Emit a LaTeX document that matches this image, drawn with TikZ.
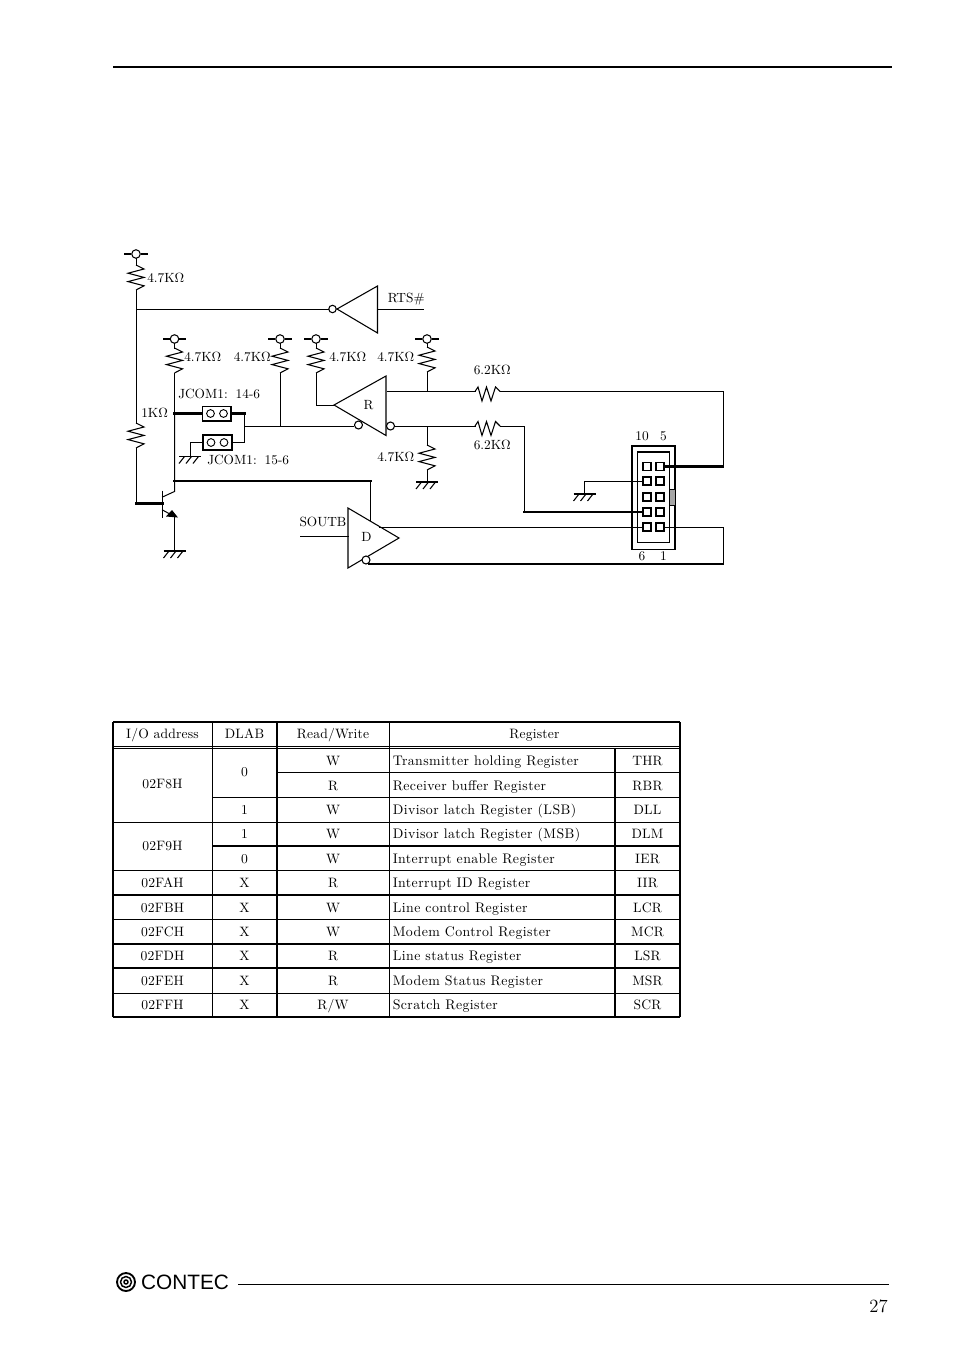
\documentclass[tikz,border=0pt]{standalone}
\usepackage{fontspec}
\setmainfont{Latin Modern Roman}
\newfontfamily\logofont{Liberation Sans}
\newcounter{cellno}
\tikzset{
  wire/.style={line width=0.75pt,line cap=rect},
  thick wire/.style={line width=1.6pt,line cap=rect},
  part/.style={line width=0.8pt},
  lab/.style={inner sep=0pt,font=\fontsize{10}{12}\selectfont},
  cellc/.style={inner sep=0pt,anchor=base,font=\fontsize{10.2}{12}\selectfont\addfontfeature{LetterSpace=1.5}},
  celll/.style={inner sep=0pt,anchor=base west,font=\fontsize{10.4}{12}\selectfont\addfontfeature{LetterSpace=3}},
  bubble/.style={circle,draw,fill=white,inner sep=0pt,minimum size=5.6pt,line width=0.8pt},
  pinbox/.style={rectangle,draw,fill=white,inner sep=0pt,minimum size=6pt,line width=0.7pt},
  jpin/.style={circle,draw,inner sep=0pt,minimum size=5.8pt,line width=0.7pt},
  jump/.style={rectangle,draw,inner sep=0pt,minimum width=21.5pt,minimum height=11pt},
  tri/.style={line width=0.8pt,line join=miter},
}
% vertical resistor: #1 name, #2 x, #3 top y, (25 px long)
\newcommand\vres[3]{%
  \coordinate (#1a) at (#2,#3);
  \coordinate (#1b) at (#2,#3+25);
  \draw[part,line join=miter] (#1a) -- ++(8,4) -- ++(-16,4.2) -- ++(16,4.2) -- ++(-16,4.2) -- ++(16,4.2) -- ++(-8,4.2);
}
% horizontal resistor
\newcommand\hres[3]{%
  \coordinate (#1a) at (#2,#3);
  \coordinate (#1b) at (#2+25,#3);
  \draw[part,line join=miter] (#1a) -- ++(3,-4.5) -- ++(4,14) -- ++(4.5,-14) -- ++(4.5,14) -- ++(4.5,-14) -- ++(4.5,4.5);
}
% supply point
\newcommand\vcc[3]{%
  \node[bubble,minimum size=6.4pt] (#1) at (#2,#3) {};
  \draw[part] (#1.west) -- ++(-7,0) (#1.east) -- ++(7,0);
}
% ground
\newcommand\gnd[3]{%
  \coordinate (#1) at (#2,#3);
  \draw[part] ([xshift=-8.25pt]#1) -- ([xshift=8.25pt]#1);
  \foreach \k in {-5.5,1.5,8.5}{\draw[part] ([shift={(\k,0)}]#1) -- ++(-5.5,7);}
}
\newcommand\tc[3]{\stepcounter{cellno}\node[cellc] (c\thecellno) at (#1,#2+4.5) {#3};}
\newcommand\tl[3]{\stepcounter{cellno}\node[celll] (c\thecellno) at (#1,#2+4.5) {#3};}
\begin{document}
\begin{tikzpicture}[x=0.75pt,y=-0.75pt]
\useasboundingbox (0,0) rectangle (954,1352);
% page rules
\draw[line width=1.5pt] (113,67.5) -- (892,67.5);
\draw[line width=0.75pt] (238,1284) -- (889,1284);
\node[inner sep=0pt,font=\fontsize{14}{16}\selectfont] (pageno) at (878.5,1306.5) {27};
% logo
\foreach \r/\w in {9/1.4,5.5/1.1,2/1.1}{\draw[line width=\w pt] (126,1282) circle (\r);}
\node[inner sep=0pt,font=\logofont\fontsize{15.6}{17}\selectfont] (logo) at (185,1282.5) {CONTEC};

% ---------- supplies and resistors
\vcc{v1}{136}{254}
\vres{r1}{136}{265}
\draw[wire] (v1) ++(0,4) -- (r1a);
\node[lab,anchor=west] (l1) at (147,278.5) {4.7K$\Omega$};
\vres{rb}{136}{423}
\node[lab,anchor=west] (l2) at (141,412.5) {1K$\Omega$};
\vcc{v2}{174.5}{339}
\vres{r2}{174.5}{348}
\draw[wire] (v2) -- (r2a);
\node[lab,anchor=west] (l3) at (184,357.5) {4.7K$\Omega$};
\vcc{v3}{280}{339}
\vres{r3}{280}{348}
\draw[wire] (v3) -- (r3a);
\node[lab,anchor=west] (l4) at (233.500,357.5) {4.7K$\Omega$};
\vcc{v4}{316}{339}
\vres{r4}{316}{348}
\draw[wire] (v4) -- (r4a);
\node[lab,anchor=west] (l5) at (329,357.5) {4.7K$\Omega$};
\vcc{v5}{427}{339}
\vres{r5}{427}{347}
\draw[wire] (v5) -- (r5a);
\node[lab,anchor=west] (l6) at (377,357.5) {4.7K$\Omega$};
\vres{r6}{427}{445}
\node[lab,anchor=west] (l7) at (377,457.5) {4.7K$\Omega$};
\hres{h1}{475}{391.5}
\node[lab,anchor=west] (l8) at (473.500,370.5) {6.2K$\Omega$};
\hres{h2}{475}{426}
\node[lab,anchor=west] (l9) at (473.500,445.5) {6.2K$\Omega$};

% ---------- RTS receiver
\coordinate (rtsA) at (337,309);
\draw[tri] (rtsA) -- (377.5,286) -- (377.5,333) -- cycle;
\node[bubble] (rtsB) at (332.500,309) {};
\coordinate (j1) at (136,309);
\draw[wire] (r1b) -- (j1) -- (rtsB);
\coordinate (rtsEnd) at (423,309);
\draw[wire] (377.5,309) -- (rtsEnd);
\node[lab,anchor=west] (rts) at (387.500,299.5) {RTS\#};
\node[lab] (sout) at (323,521.5) {SOUTB};

% ---------- R receiver
\coordinate (rA) at (334,405);
\draw[tri] (rA) -- (386,376) -- (386,435.5) -- cycle;
\node[lab] (rR) at (368.500,405.5) {R};
\node[bubble,minimum size=6pt] (rN) at (358.500,425) {};
\node[bubble,minimum size=6pt] (rO) at (390.500,426) {};
\draw[wire] (r4b) |- (rA);

% ---------- jumpers
\node[jump,line width=1pt] (J1) at (216.5,413.5) {};
\node[jump,line width=1.5pt] (J2) at (217.5,442.5) {};
\node[jpin] (J1a) at (210.5,413.5) {};
\node[jpin] (J1b) at (223.5,413.5) {};
\node[jpin] (J2a) at (211,442.5) {};
\node[jpin] (J2b) at (224,442.5) {};
\node[lab,anchor=west] (jl1) at (178,393.5) {JCOM1:\hspace{6pt}14-6};
\node[lab,anchor=west] (jl2) at (207,459.5) {JCOM1:\hspace{6pt}15-6};
\coordinate (col) at (174.5,481);
\coordinate (jt) at (174.5,413.5);
\coordinate (jm) at (244.5,426.5);
\coordinate (j3) at (280,426.5);
\gnd{g1}{190}{456.5}
\draw[wire] (r2b) -- (jt);
\draw[thick wire] (jt) -- (J1.west);
\draw[thick wire] (J1.east) -- (jm |- J1.east);
\draw[wire] (jm |- J1.east) -- (jm |- J2.east) -- (J2.east);
\draw[wire] (J2.west) -| (g1);
\draw[wire] (jm) -- (j3) -- (rN.west |- j3);
\draw[wire] (r3b) -- (j3);

% ---------- transistor
\coordinate (bar) at (162.5,503.5);
\coordinate (cor) at (136,503.5);
\draw[part] (162.5,490.5) -- (162.5,517.5);
\draw[wire] (rbb) -- (cor);
\draw[thick wire] (cor) -- (bar);
\draw[wire] (rba) -- (r1b);
\draw[wire] (162.5,497) -- (174.5,491.5) -- (jt);
\draw[wire] (162.5,510) -- (174.5,516.5);
\fill (166,516.5) -- (178,517.5) -- (172,510) -- cycle;
\gnd{g2}{174.5}{551}
\draw[wire] (174.5,516.5) -- (g2);

% ---------- D driver
\coordinate (dA) at (399,538);
\draw[tri] (dA) -- (348,508) -- (348,568) -- cycle;
\node[lab] (dD) at (366.500,536.5) {D};
\node[bubble,minimum size=6pt] (dN) at (366,560) {};
\coordinate (sIn) at (300,536.5);
\draw[wire] (sIn) -- (348,536.5);
\coordinate (dV) at (370.5,481);
\draw[thick wire] (col) -- (dV);
\draw[wire] (dV) -- (370.5,520.5);

% ---------- connector
\draw[line width=0.8pt] (632,446) rectangle (675,549.5);
\draw[line width=0.8pt] (637.5,452) rectangle (669.5,542.5);
\draw[line width=1.6pt] (637.5,452) -- (669.5,452);
\fill[black!35] (669.5,489) rectangle (675,505);
\draw[line width=0.6pt] (669.5,489) rectangle (675,505);
\foreach \i/\y/\w in {1/466.5/0.8,2/481/1.0,3/497/0.8,4/512/1.0,5/527/0.8}{
  \node[pinbox,line width=\w pt] (pa\i) at (647,\y) {};
  \node[pinbox,line width=\w pt] (pb\i) at (660,\y) {};
}
\node[lab] (n10) at (642,436.5) {10};
\node[lab] (n5) at (663.5,436.5) {5};
\node[lab] (n6) at (642,556) {6};
\node[lab] (n1) at (663.5,556) {1};

% ---------- signal wires
\coordinate (j4) at (427,391.5);
\coordinate (j5) at (427,426);
\draw[wire] (387.5,391.5) -- (h1a);
\draw[wire] (r5b) -- (j4);
\coordinate (c1) at (723,391.5);
\coordinate (c2) at (c1 |- pb1);
\draw[wire] (h1b) -- (c1) -- (c2);
\draw[thick wire] (c2) -- (pb1.east);
\draw[wire] (rO) -- (h2a);
\draw[wire] (j5) -- (r6a);
\gnd{g3}{427}{482}
\draw[wire] (r6b) -- (g3);
\coordinate (c3) at (524.5,426);
\coordinate (c4) at (524.5,512);
\draw[wire] (h2b) -- (c3) -- (c4);
\draw[thick wire] (c4) -- (pa4.west);
\gnd{g4}{584.5}{494}
\draw[wire] (pa2.west) -| (g4);
\coordinate (c5) at (c1 |- pb5);
\coordinate (c6) at (723,564);
\coordinate (dOut) at (379,527);
\draw[wire] (dOut) -- (pa5.west);
\draw[wire] (pb5.east) -- (c5) -- (c6);
\draw[thick wire] (c6) -- (dN.south east |- c6);

% ---------- table
\foreach \y/\a/\b in {
 746/113/680, 748.5/113/680, 822/113/680, 919/113/680, 993/113/680}{
  \draw[line width=0.7pt] (\a,\y) -- (\b,\y);}
\foreach \y/\a/\b in {
 772.5/277/680, 797.5/212/680, 846/212/680, 870.5/113/680, 895/113/680, 944/113/680, 968/113/680}{
  \draw[line width=1.2pt] (\a,\y) -- (\b,\y);}
\draw[line width=0.7pt] (212,722) -- (212,1017);
\draw[line width=1.3pt] (277,722) -- (277,1017);
\draw[line width=0.7pt] (389.5,722) -- (389.5,1017);
\draw[line width=1.3pt] (615,748) -- (615,1017);
\draw[line width=1.2pt] (113,722) -- (680,722);
\draw[line width=1.3pt] (113,1017) -- (680,1017);
\draw[line width=1.5pt] (113,722) -- (113,1017);
\draw[line width=0.9pt] (680,722) -- (680,1017);
\tc{162.5}{734}{I/O address}\tc{244.5}{734}{DLAB}\tc{333}{734}{Read/Write}\tc{534.5}{734}{Register}
\tc{162.5}{783.5}{02F8H}\tc{162.5}{845.5}{02F9H}
\tc{244.5}{772}{0}\tc{244.5}{809.5}{1}\tc{244.5}{834}{1}\tc{244.5}{858.5}{0}
\tc{333}{760.5}{W}\tc{333}{785.5}{R}\tc{333}{809.5}{W}\tc{333}{834}{W}\tc{333}{858.5}{W}
\tl{392.5}{760.5}{Transmitter holding Register}\tc{647.5}{760.5}{THR}
\tl{392.5}{785.5}{Receiver buffer Register}\tc{647.5}{785.5}{RBR}
\tl{392.5}{809.5}{Divisor latch Register (LSB)}\tc{647.5}{809.5}{DLL}
\tl{392.5}{834}{Divisor latch Register (MSB)}\tc{647.5}{834}{DLM}
\tl{392.5}{858.5}{Interrupt enable Register}\tc{647.5}{858.5}{IER}
\tc{162.5}{883}{02FAH}\tc{244.5}{883}{X}\tc{333}{883}{R}\tl{392.5}{883}{Interrupt ID Register}\tc{647.5}{883}{IIR}
\tc{162.5}{907.5}{02FBH}\tc{244.5}{907.5}{X}\tc{333}{907.5}{W}\tl{392.5}{907.5}{Line control Register}\tc{647.5}{907.5}{LCR}
\tc{162.5}{931.5}{02FCH}\tc{244.5}{931.5}{X}\tc{333}{931.5}{W}\tl{392.5}{931.5}{Modem Control Register}\tc{647.5}{931.5}{MCR}
\tc{162.5}{956}{02FDH}\tc{244.5}{956}{X}\tc{333}{956}{R}\tl{392.5}{956}{Line status Register}\tc{647.5}{956}{LSR}
\tc{162.5}{980.5}{02FEH}\tc{244.5}{980.5}{X}\tc{333}{980.5}{R}\tl{392.5}{980.5}{Modem Status Register}\tc{647.5}{980.5}{MSR}
\tc{162.5}{1005}{02FFH}\tc{244.5}{1005}{X}\tc{333}{1005}{R/W}\tl{392.5}{1005}{Scratch Register}\tc{647.5}{1005}{SCR}
\end{tikzpicture}
\end{document}
